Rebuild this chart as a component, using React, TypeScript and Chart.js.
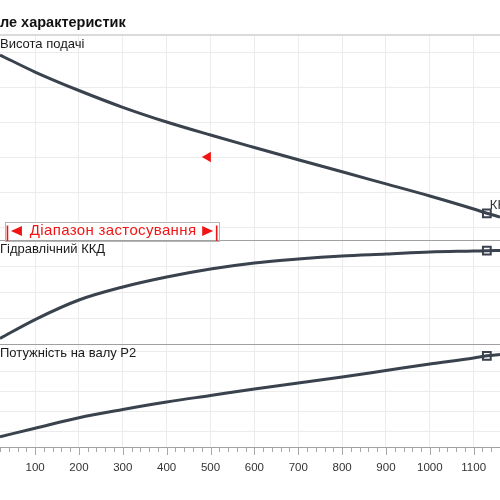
import React, { useEffect, useRef } from 'react';
import { Chart, registerables } from 'chart.js';

Chart.register(...registerables);

// ---- data ----
const flow = [20, 100, 200, 300, 400, 500, 600, 700, 800, 900, 1000, 1100, 1130, 1160];
const head = [29.57, 27.14, 24.5, 22.1, 20.0, 18.14, 16.36, 14.61, 12.89, 11.16, 9.43, 7.57, 6.96, 6.43];
const efficiency = [5.4, 23.5, 42.3, 54.8, 64.4, 72.1, 77.9, 81.7, 84.6, 86.5, 88.5, 89.4, 89.7, 89.9];
const power = [0.715, 1.135, 1.665, 2.075, 2.45, 2.775, 3.1, 3.4, 3.7, 4.025, 4.35, 4.65, 4.76, 4.825];

const markerFlow = 1130;
const dutyFlow = [494];
const dutyHead = [15];
const rangeStart = 37;
const rangeEnd = 514;

const titleText = 'ле характеристик';
const panelLabels = ['Висота подачі', 'Гідравлічний ККД', 'Потужність на валу P2'];
const rangeText = 'Діапазон застосування';
const markerLabel = 'КН';

const xMin = 20;
const xMax = 1160;
const xStep = 20;
const xLabelStep = 100;

const FONT = '"Liberation Sans", Arial, sans-serif';
const CURVE = '#3a424e';
const RED = '#f21414';

const pts = (ys: number[]) => flow.map((x, i) => ({ x, y: ys[i] }));
const markerPt = (ys: number[]) => [{ x: markerFlow, y: ys[flow.indexOf(markerFlow)] }];

const overlay = {
  id: 'overlay',
  afterDraw(chart: any) {
    const { ctx, chartArea, scales } = chart;
    const xs = scales.x;
    const ya = scales.yH;
    const yb = scales.yE;
    const yc = scales.yP;
    const L = chartArea.left;
    const R = chartArea.right;
    ctx.save();

    // title
    ctx.fillStyle = '#111';
    ctx.font = `bold 14.5px ${FONT}`;
    ctx.textAlign = 'left';
    ctx.textBaseline = 'middle';
    ctx.fillText(titleText, 0, 23);

    // top border
    ctx.fillStyle = '#dadada';
    ctx.fillRect(L, chartArea.top - 1, R - L, 2);

    // panel dividers
    ctx.strokeStyle = '#a0a0a0';
    ctx.lineWidth = 1;
    [ya.bottom, yb.bottom].forEach((y: number) => {
      const yy = Math.round(y) + 0.5;
      ctx.beginPath();
      ctx.moveTo(L, yy);
      ctx.lineTo(R, yy);
      ctx.stroke();
    });

    // tick marks on x axis
    ctx.strokeStyle = '#a8a8a8';
    xs.ticks.forEach((t: any) => {
      const px = Math.round(xs.getPixelForValue(t.value)) + 0.5;
      const major = Math.round(t.value) % xLabelStep === 0;
      ctx.beginPath();
      ctx.moveTo(px, chartArea.bottom);
      ctx.lineTo(px, chartArea.bottom + (major ? 8 : 5));
      ctx.stroke();
    });

    // panel labels
    ctx.fillStyle = '#1a1a1a';
    ctx.font = `13px ${FONT}`;
    ctx.textBaseline = 'middle';
    ctx.fillText(panelLabels[0], 0, ya.top + 9);
    ctx.fillText(panelLabels[1], 0, yb.top + 9);
    ctx.fillText(panelLabels[2], 0, yc.top + 9);

    // application range box
    const rx0 = xs.getPixelForValue(rangeStart);
    const rx1 = xs.getPixelForValue(rangeEnd);
    const by1 = ya.bottom;
    const by0 = by1 - 18.5;
    ctx.fillStyle = '#fff';
    ctx.fillRect(rx0 - 2.5, by0, rx1 - rx0 + 5, by1 - by0);
    ctx.strokeStyle = '#b5b5b5';
    ctx.lineWidth = 1;
    ctx.strokeRect(Math.round(rx0 - 2.5) + 0.5, Math.round(by0) + 0.5, Math.round(rx1 - rx0 + 5), Math.round(by1 - by0));
    ctx.strokeStyle = RED;
    ctx.fillStyle = RED;
    ctx.lineWidth = 1.6;
    [rx0, rx1].forEach((x: number) => {
      ctx.beginPath();
      ctx.moveTo(x, by1 - 14.5);
      ctx.lineTo(x, by1 + 1);
      ctx.stroke();
    });
    const cy = by1 - 9;
    ctx.beginPath();
    ctx.moveTo(rx0 + 3.5, cy);
    ctx.lineTo(rx0 + 14.5, cy - 5);
    ctx.lineTo(rx0 + 14.5, cy + 5);
    ctx.closePath();
    ctx.fill();
    ctx.beginPath();
    ctx.moveTo(rx1 - 3.5, cy);
    ctx.lineTo(rx1 - 14.5, cy - 5);
    ctx.lineTo(rx1 - 14.5, cy + 5);
    ctx.closePath();
    ctx.fill();
    ctx.font = `15px ${FONT}`;
    ctx.textAlign = 'center';
    try {
      (ctx as any).letterSpacing = '0.35px';
    } catch (e) {
      /* ignore */
    }
    ctx.fillText(rangeText, (rx0 + rx1) / 2 + 1, cy);
    try {
      (ctx as any).letterSpacing = '0px';
    } catch (e) {
      /* ignore */
    }

    // marker label
    const mx = xs.getPixelForValue(markerFlow);
    const my = ya.getPixelForValue(head[flow.indexOf(markerFlow)]);
    ctx.fillStyle = '#333';
    ctx.font = `13px ${FONT}`;
    ctx.textAlign = 'left';
    ctx.fillText(markerLabel, mx + 3, my - 8);

    ctx.restore();
  },
};

const curve = (ys: number[], axis: string) => ({
  data: pts(ys),
  yAxisID: axis,
  borderColor: CURVE,
  borderWidth: 3,
  pointRadius: 0,
  fill: false,
  cubicInterpolationMode: 'monotone' as const,
});

const marker = (ys: number[], axis: string) => ({
  data: markerPt(ys),
  yAxisID: axis,
  showLine: false,
  pointStyle: 'rect' as const,
  pointRadius: 5.5,
  pointBorderWidth: 2,
  pointBackgroundColor: '#fff',
  pointBorderColor: CURVE,
  borderColor: CURVE,
  backgroundColor: '#fff',
});

const yGrid = { drawTicks: false, color: '#ececec', lineWidth: 1 };

export default function App() {
  const ref = useRef<HTMLCanvasElement>(null);
  useEffect(() => {
    const chart = new Chart(ref.current as HTMLCanvasElement, {
      type: 'line',
      data: {
        datasets: [
          curve(head, 'yH') as any,
          curve(efficiency, 'yE') as any,
          curve(power, 'yP') as any,
          marker(head, 'yH') as any,
          marker(efficiency, 'yE') as any,
          marker(power, 'yP') as any,
          {
            data: dutyFlow.map((x, i) => ({ x, y: dutyHead[i] })),
            yAxisID: 'yH',
            showLine: false,
            pointStyle: 'triangle',
            rotation: 270,
            pointRadius: 6,
            pointBorderWidth: 0,
            pointBackgroundColor: RED,
            pointBorderColor: RED,
          } as any,
        ],
      },
      options: {
        animation: false,
        responsive: false,
        layout: { autoPadding: false, padding: { top: 35, left: 0, right: 0, bottom: 0 } },
        plugins: {
          legend: { display: false },
          tooltip: { enabled: false },
        },
        scales: {
          x: {
            type: 'linear',
            position: 'bottom',
            min: xMin,
            max: xMax,
            afterFit: (s: any) => {
              s.height = 53;
              s.paddingLeft = 0;
              s.paddingRight = 0;
              s.paddingTop = 0;
              s.paddingBottom = 0;
            },
            ticks: {
              stepSize: xStep,
              autoSkip: false,
              maxRotation: 0,
              minRotation: 0,
              includeBounds: false,
              maxTicksLimit: 200,
              padding: 14,
              color: '#333',
              font: { family: FONT, size: 11.5 },
              callback: (v: any) => (Math.round(Number(v)) % xLabelStep === 0 ? String(v) : ''),
            },
            grid: {
              drawTicks: false,
              lineWidth: 1,
              color: (c: any) =>
                c.tick && Math.round(c.tick.value) % xLabelStep === 0 ? '#ececec' : 'rgba(0,0,0,0)',
            },
            border: { display: true, color: '#a0a0a0', width: 1 },
          },
          yH: {
            type: 'linear',
            position: 'left',
            stack: 'panels',
            stackWeight: 205,
            weight: 3,
            min: 3.143,
            max: 32.429,
            ticks: { display: false, stepSize: 5, includeBounds: false, maxTicksLimit: 100 },
            grid: yGrid,
            border: { display: false },
          },
          yE: {
            type: 'linear',
            position: 'left',
            stack: 'panels',
            stackWeight: 104,
            weight: 2,
            min: 0,
            max: 100,
            ticks: { display: false, stepSize: 25, includeBounds: false, maxTicksLimit: 100 },
            grid: yGrid,
            border: { display: false },
          },
          yP: {
            type: 'linear',
            position: 'left',
            stack: 'panels',
            stackWeight: 103,
            weight: 1,
            min: 0.2,
            max: 5.35,
            ticks: { display: false, stepSize: 1, includeBounds: false, maxTicksLimit: 100 },
            grid: yGrid,
            border: { display: false },
          },
        } as any,
      },
      plugins: [overlay],
    });
    return () => chart.destroy();
  }, []);

  return (
    <div style={{ position: 'absolute', left: 0, top: 0, width: 500, height: 500, background: '#fff' }}>
      <canvas ref={ref} width={500} height={500} style={{ display: 'block' }} />
    </div>
  );
}
